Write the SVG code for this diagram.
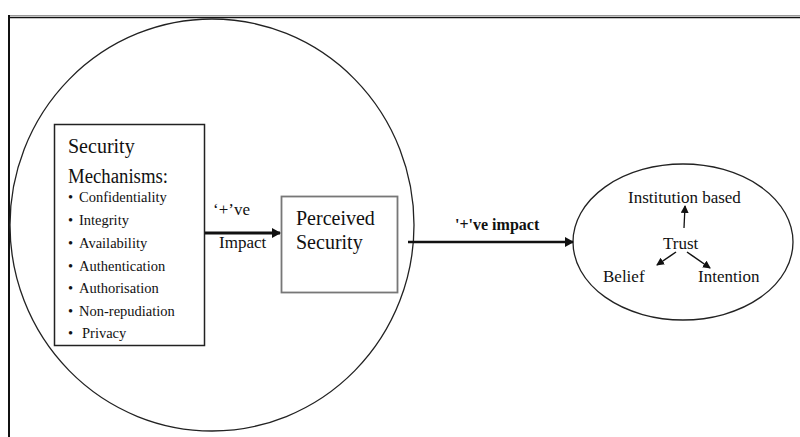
<svg xmlns="http://www.w3.org/2000/svg" width="800" height="437" viewBox="0 0 800 437">
<style>
.t{font-family:"Liberation Serif","Times New Roman",serif;fill:#111}
.big{font-size:20px}
.sm{font-size:14.5px}
.tr{font-size:17px}
.ln{stroke:#222;fill:none}
</style>
<defs>
<marker id="ah" markerWidth="10" markerHeight="10" refX="8" refY="5" orient="auto" markerUnits="userSpaceOnUse">
<path d="M0,0 L9,5 L0,10 z" fill="#111"/>
</marker>
<marker id="ahs" markerWidth="8" markerHeight="8" refX="7" refY="4" orient="auto" markerUnits="userSpaceOnUse">
<path d="M0,0 L8,4 L0,8 z" fill="#111"/>
</marker>
</defs>
<rect width="800" height="437" fill="#fff"/>
<g id="frame">
<line x1="8" y1="15.5" x2="800" y2="15.5" stroke="#999" stroke-width="1"/>
<line x1="8" y1="17.5" x2="800" y2="17.5" stroke="#111" stroke-width="1.6"/>
<line x1="9" y1="15" x2="9" y2="437" stroke="#111" stroke-width="2"/>
</g>
<g id="outer-circle">
<ellipse cx="212" cy="225" rx="202" ry="206" class="ln" stroke-width="1.3"/>
</g>
<g id="security-mechanisms">
<rect x="54.5" y="124.5" width="150" height="221" fill="#fff" stroke="#222" stroke-width="1.5"/>
<text class="t big" x="68" y="153">Security</text>
<text class="t big" x="68" y="183" textLength="100" lengthAdjust="spacingAndGlyphs">Mechanisms:</text>
<g class="t sm">
<text x="68" y="202">•</text><text x="79" y="202">Confidentiality</text>
<text x="68" y="225">•</text><text x="79" y="225">Integrity</text>
<text x="68" y="248">•</text><text x="79" y="248">Availability</text>
<text x="68" y="271">•</text><text x="79" y="271">Authentication</text>
<text x="68" y="293">•</text><text x="79" y="293">Authorisation</text>
<text x="68" y="316">•</text><text x="79" y="316">Non-repudiation</text>
<text x="68" y="338">•</text><text x="82" y="338">Privacy</text>
</g>
</g>
<g id="perceived-security">
<rect x="281.5" y="196.5" width="116" height="96" fill="#fff" stroke="#777" stroke-width="1.8"/>
<text class="t big" x="296" y="225">Perceived</text>
<text class="t big" x="296" y="249">Security</text>
</g>
<g id="trust">
<ellipse cx="683" cy="242" rx="110" ry="78" class="ln" stroke-width="1.3"/>
<text class="t tr" x="628" y="203">Institution based</text>
<text class="t tr" x="663" y="249">Trust</text>
<text class="t tr" x="603" y="282">Belief</text>
<text class="t tr" x="698" y="282">Intention</text>
</g>
<g id="connectors">
<line x1="205" y1="233" x2="280" y2="233" stroke="#111" stroke-width="3" marker-end="url(#ah)"/>
<text class="t" x="213" y="215" font-size="17">‘+’ve</text>
<text class="t" x="219" y="248" font-size="17">Impact</text>
<line x1="408" y1="242" x2="573" y2="242" stroke="#111" stroke-width="2.5" marker-end="url(#ah)"/>
<text class="t" x="455" y="230" font-size="16" font-weight="bold">'+'ve impact</text>
<line x1="684" y1="228" x2="685" y2="206" stroke="#111" stroke-width="1.3" marker-end="url(#ahs)"/>
<line x1="676" y1="252" x2="657" y2="265" stroke="#111" stroke-width="1.5" marker-end="url(#ahs)"/>
<line x1="687" y1="252" x2="710" y2="268" stroke="#111" stroke-width="1.5" marker-end="url(#ahs)"/>
</g>
</svg>
